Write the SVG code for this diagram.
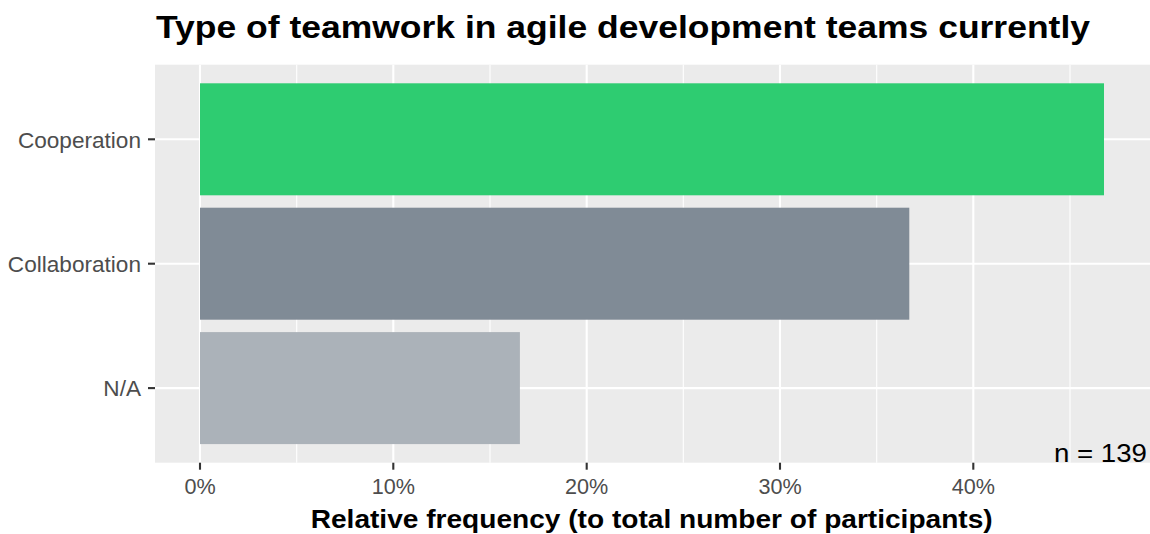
<svg xmlns="http://www.w3.org/2000/svg" width="1150" height="534" viewBox="0 0 1150 534">
<style>
.major{stroke:#FFFFFF;stroke-width:2.1}
.minor{stroke:#FFFFFF;stroke-width:1.1}
.tick{stroke:#333333;stroke-width:2.1}
.ylab{font-family:"Liberation Sans",Arial,sans-serif;font-size:22.6px;fill:#4D4D4D;text-anchor:end}
.xlab{font-family:"Liberation Sans",Arial,sans-serif;font-size:21.6px;fill:#4D4D4D;text-anchor:middle}
.ttl{font-family:"Liberation Sans",Arial,sans-serif;font-weight:bold;fill:#000000}
</style>
<rect x="0" y="0" width="1150" height="534" fill="#FFFFFF"/>
<g id="panel">
<rect x="155" y="64.7" width="995" height="398" fill="#EBEBEB"/>
<g id="grid">
<line class="minor" x1="296.7" y1="64.7" x2="296.7" y2="462.7"/>
<line class="minor" x1="490" y1="64.7" x2="490" y2="462.7"/>
<line class="minor" x1="683.3" y1="64.7" x2="683.3" y2="462.7"/>
<line class="minor" x1="876.7" y1="64.7" x2="876.7" y2="462.7"/>
<line class="minor" x1="1070" y1="64.7" x2="1070" y2="462.7"/>
<line class="major" x1="200" y1="64.7" x2="200" y2="462.7"/>
<line class="major" x1="393.3" y1="64.7" x2="393.3" y2="462.7"/>
<line class="major" x1="586.7" y1="64.7" x2="586.7" y2="462.7"/>
<line class="major" x1="780" y1="64.7" x2="780" y2="462.7"/>
<line class="major" x1="973.3" y1="64.7" x2="973.3" y2="462.7"/>
<line class="major" x1="155" y1="139.3" x2="1150" y2="139.3"/>
<line class="major" x1="155" y1="263.7" x2="1150" y2="263.7"/>
<line class="major" x1="155" y1="388.1" x2="1150" y2="388.1"/>
</g>
</g>
<g id="bar-cooperation"><rect x="200" y="83.3" width="904" height="112" fill="#2ECC71"/></g>
<g id="bar-collaboration"><rect x="200" y="207.7" width="709.3" height="112" fill="#808B96"/></g>
<g id="bar-na"><rect x="200" y="332.1" width="319.9" height="112" fill="#ABB2B9"/></g>
<g id="axes">
<line class="tick" x1="148" y1="139.3" x2="155" y2="139.3"/>
<line class="tick" x1="148" y1="263.7" x2="155" y2="263.7"/>
<line class="tick" x1="148" y1="388.1" x2="155" y2="388.1"/>
<text class="ylab" x="141" y="147.6">Cooperation</text>
<text class="ylab" x="141" y="272">Collaboration</text>
<text class="ylab" x="141" y="396.4">N/A</text>
<line class="tick" x1="200" y1="462.7" x2="200" y2="469.7"/>
<line class="tick" x1="393.3" y1="462.7" x2="393.3" y2="469.7"/>
<line class="tick" x1="586.7" y1="462.7" x2="586.7" y2="469.7"/>
<line class="tick" x1="780" y1="462.7" x2="780" y2="469.7"/>
<line class="tick" x1="973.3" y1="462.7" x2="973.3" y2="469.7"/>
<text class="xlab" x="200" y="494">0%</text>
<text class="xlab" x="393.3" y="494">10%</text>
<text class="xlab" x="586.7" y="494">20%</text>
<text class="xlab" x="780" y="494">30%</text>
<text class="xlab" x="973.3" y="494">40%</text>
</g>
<text id="n-label" x="1054" y="462" font-family="'Liberation Sans',Arial,sans-serif" font-size="25.5" fill="#000000" textLength="93" lengthAdjust="spacingAndGlyphs">n = 139</text>
<text id="title" class="ttl" x="156" y="38.3" font-size="32" textLength="934" lengthAdjust="spacingAndGlyphs">Type of teamwork in agile development teams currently</text>
<text id="xtitle" class="ttl" x="310.7" y="528" font-size="25.5" textLength="682" lengthAdjust="spacingAndGlyphs">Relative frequency (to total number of participants)</text>
</svg>
